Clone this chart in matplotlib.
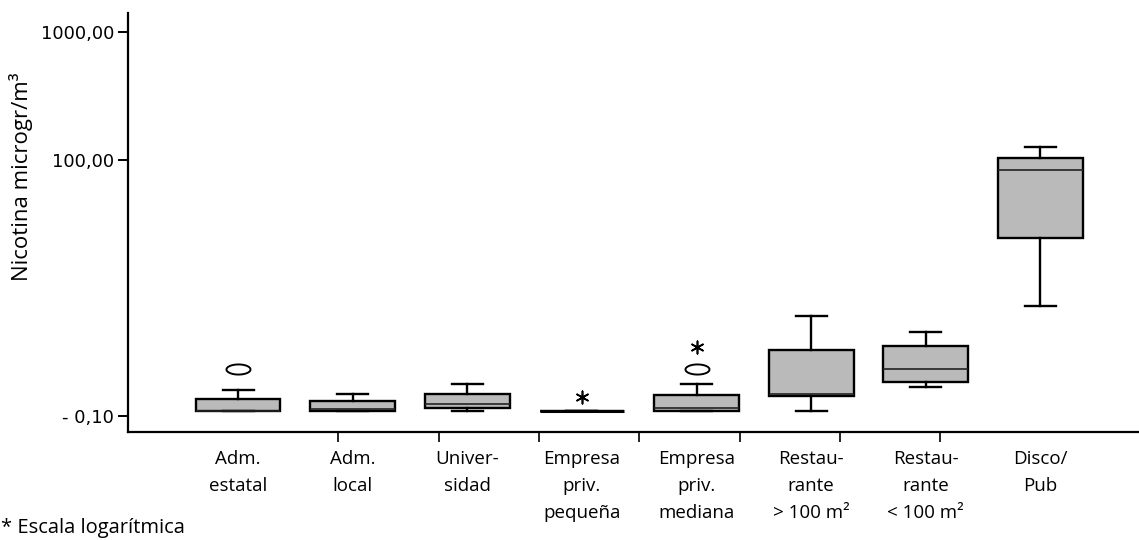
import numpy as np
import matplotlib.pyplot as plt
from matplotlib.path import Path

plt.rcParams['font.family'] = ['Open Sans', 'DejaVu Sans']

# data (log scale)
categories = ['Adm.\nestatal', 'Adm.\nlocal', 'Univer-\nsidad', 'Empresa\npriv.\npequeña',
              'Empresa\npriv.\nmediana', 'Restau-\nrante\n> 100 m²', 'Restau-\nrante\n< 100 m²',
              'Disco/\nPub']
whislo = [1.09, 1.09, 1.10, 1.10, 1.10, 1.10, 1.69, 7.2]
q1 = [1.09, 1.09, 1.155, 1.10, 1.10, 1.425, 1.85, 24.4]
med = [1.09, 1.14, 1.23, 1.10, 1.16, 1.48, 2.32, 83.5]
q3 = [1.365, 1.31, 1.49, 1.10, 1.46, 3.28, 3.52, 103.0]
whishi = [1.60, 1.49, 1.79, 1.10, 1.79, 6.04, 4.53, 127.0]

# outliers: (category index, value)
circle_idx = [0, 4]
circle_val = [2.32, 2.33]
star_idx = [3, 4]
star_val = [1.415, 3.48]

ytick_vals = [1, 100, 1000]
ytick_labels = ['- 0,10', '100,00', '1000,00']

fig = plt.figure(figsize=(11.39, 5.4), dpi=100)
ax = fig.add_axes([0.1124, 0.2, 0.8876, 0.776])

stats = []
for i in range(len(categories)):
    stats.append({'whislo': whislo[i], 'q1': q1[i], 'med': med[i], 'q3': q3[i],
                  'whishi': whishi[i], 'fliers': []})

ax.bxp(stats, positions=range(len(categories)), widths=0.74, patch_artist=True,
       showfliers=False,
       boxprops=dict(facecolor='#bababa', edgecolor='black', linewidth=1.7),
       medianprops=dict(color='#222222', linewidth=1.2),
       whiskerprops=dict(color='black', linewidth=1.7),
       capprops=dict(color='black', linewidth=1.7), capwidths=0.27)

# a box with no spread shows only as a heavy line
for i in range(len(categories)):
    if q1[i] == q3[i]:
        ax.hlines(q1[i], i - 0.37, i + 0.37, color='black', linewidth=2.2, zorder=4)

# ellipse marker for outliers
t = np.linspace(0, 2 * np.pi, 60)
ellipse = Path(np.column_stack([np.cos(t), 0.42 * np.sin(t)]))
ax.scatter(circle_idx, circle_val, marker=ellipse, s=300, facecolor='white',
           edgecolor='black', linewidth=1.4, zorder=5)
ax.scatter(star_idx, star_val, marker=(6, 2, 0), s=80, color='black',
           linewidth=1.2, zorder=5)

ax.set_yscale('log')
ax.set_ylim(0.75, 1406)
ax.set_xlim(-0.96, 7.86)
ax.set_yticks(ytick_vals)
ax.set_yticklabels(ytick_labels, fontsize=13, family=['DejaVu Sans'])
ax.yaxis.set_minor_locator(plt.NullLocator())
ax.tick_params(axis='y', length=7, width=1.4, pad=3)

ax.set_xticks(range(len(categories)))
ax.set_xticklabels(categories, fontsize=13.5, linespacing=1.65, va='top')
ax.set_xticks([j * 7 / 8 for j in range(9)], minor=True)
ax.tick_params(axis='x', which='major', length=0, pad=13)
ax.tick_params(axis='x', which='minor', length=7, width=1.2)

for side in ['top', 'right']:
    ax.spines[side].set_visible(False)
for side in ['left', 'bottom']:
    ax.spines[side].set_linewidth(1.6)

ax.set_ylabel('Nicotina microgr/m³', fontsize=16)
ax.yaxis.set_label_coords(-0.094, 0.61)

fig.text(0.001, 0.022, '* Escala logarítmica', fontsize=14.5, ha='left', va='center')

fig.savefig('out.png', dpi=100)
